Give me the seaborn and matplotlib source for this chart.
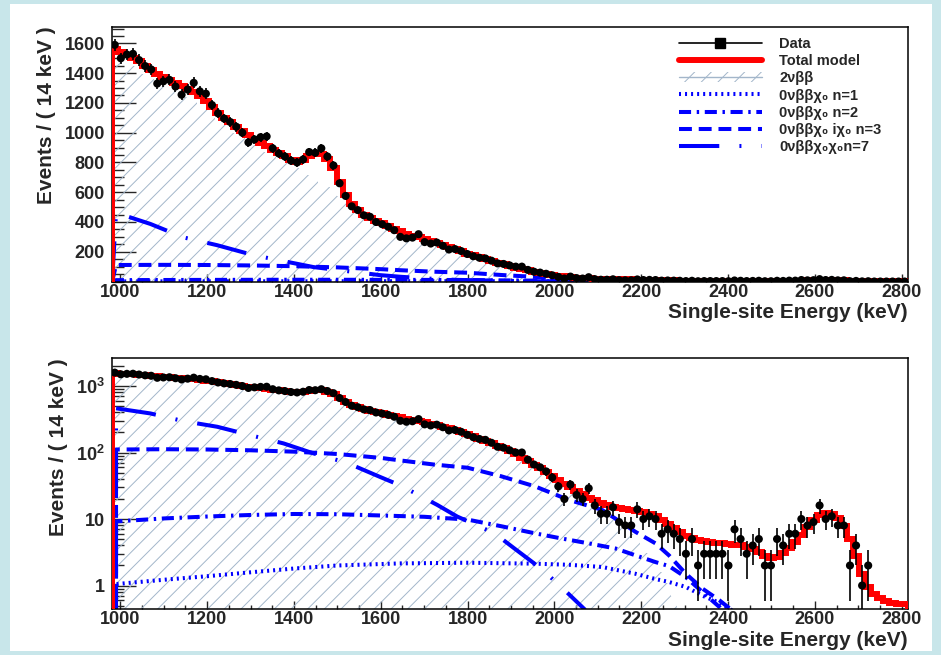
import numpy as np
import matplotlib
matplotlib.use("Agg")
import matplotlib.pyplot as plt
import seaborn as sns
from matplotlib.lines import Line2D
from matplotlib.patches import Patch, Rectangle
from matplotlib.ticker import FixedLocator, MultipleLocator, LogLocator, FuncFormatter, NullFormatter

# ---------------- data ----------------
bin_width = 14
bin_lo = 980
n_bins = 131

total_model = [
    1565, 1540, 1525, 1505, 1480, 1450, 1420, 1395, 1372, 1352,
    1335, 1315, 1295, 1272, 1245, 1210, 1170, 1130, 1100, 1070,
    1040, 1010, 983, 958, 932, 908, 885, 865, 845, 815,
    805, 815, 845, 862, 860, 820, 760, 670, 580, 520,
    480, 448, 425, 405, 390, 372, 355, 338, 322, 308,
    296, 283, 270, 257, 244, 230, 216, 202, 188, 175,
    162, 150, 138, 126, 115, 104, 94, 84, 75, 66,
    58, 51, 45, 39, 34, 30, 26.5, 23.5, 21, 19,
    17.5, 16.3, 15.4, 14.7, 14.2, 13.7, 13.2, 12.7, 12.1, 11.2,
    9.8, 8.4, 7.2, 6.3, 5.6, 5.2, 4.9, 4.7, 4.5, 4.4,
    4.3, 4.2, 4.1, 4.0, 3.8, 3.6, 3.2, 2.8, 2.6, 2.7,
    3.1, 3.7, 4.5, 5.8, 7.5, 9.5, 11.5, 12.3, 12.0, 10.5,
    7.8, 5.0, 2.8, 1.5, 0.95, 0.75, 0.64, 0.58, 0.55, 0.53,
    0.52]

two_nu = [
    1500, 1478, 1464, 1445, 1421, 1392, 1363, 1339, 1317, 1298,
    1282, 1262, 1243, 1221, 1195, 1162, 1123, 1085, 1056, 1027,
    998, 970, 944, 920, 895, 872, 850, 830, 810, 782,
    760, 738, 714, 690, 664, 636, 606, 574, 540, 496,
    458, 428, 406, 387, 372, 355, 339, 323, 308, 294,
    282, 270, 257, 245, 232, 219, 205, 192, 179, 166,
    154, 142, 131, 120, 109, 99, 89, 80, 71, 62,
    54, 47, 41, 35, 30, 26, 22, 19, 16.5, 14.5,
    12.7, 11, 9.6, 8.3, 7.1, 6.0, 5.0, 4.0, 3.1, 2.3,
    1.6, 1.1, 0.7, 0.45, 0.28, 0.15, 0.07, 0.03, 0, 0,
    0, 0, 0, 0, 0, 0, 0, 0, 0, 0,
    0, 0, 0, 0, 0, 0, 0, 0, 0, 0,
    0, 0, 0, 0, 0, 0, 0, 0, 0, 0,
    0]

data_counts = [
    1590, 1500, 1525, 1530, 1488, 1448, 1425, 1330, 1345, 1355,
    1310, 1255, 1290, 1335, 1278, 1262, 1186, 1130, 1095, 1072,
    1040, 1000, 935, 955, 970, 975, 895, 860, 840, 812,
    800, 820, 870, 865, 895, 840, 780, 660, 575, 505,
    480, 445, 435, 400, 385, 368, 345, 300, 290, 295,
    318, 265, 255, 262, 240, 215, 218, 205, 185, 170,
    160, 155, 140, 122, 118, 108, 100, 100, 78, 66,
    60, 52, 42, 31, 20, 33, 23, 20, 29, 16,
    12, 12, 15, 9, 8, 8, 14, 10, 11, 10,
    6, 7, 6, 5, 3, 5, 2, 3, 3, 3,
    3, 2, 7, 5, 3, 4, 5, 2, 2, 5,
    4, 6, 6, 10, 8, 9, 16, 10, 11, 8,
    8, 2, 4, 1, 2, 0, 0, 0, 0, 0,
    0]

# signal shapes (smooth curves)
n1_E = [981, 990, 1100, 1200, 1300, 1400, 1500, 1645, 1800, 1955, 2033, 2110, 2187, 2233, 2264, 2303, 2342, 2380, 2405, 2440]
n1_v = [0, 1.05, 1.22, 1.38, 1.58, 1.8, 2.0, 2.15, 2.2, 2.13, 2.05, 1.9, 1.5, 1.25, 1.13, 0.95, 0.7, 0.55, 0.44, 0.3]

n2_E = [981, 990, 1100, 1200, 1300, 1400, 1500, 1600, 1700, 1800, 1877, 1955, 2016, 2079, 2141, 2187, 2233, 2264, 2303, 2342, 2381, 2420]
n2_v = [0, 9.2, 10.2, 10.9, 11.5, 11.9, 11.8, 11.3, 10.8, 9.8, 7.8, 6.1, 5.1, 4.3, 3.6, 2.84, 2.25, 1.96, 1.33, 0.79, 0.47, 0.25]

n3_E = [981, 990, 1100, 1200, 1300, 1400, 1500, 1600, 1645, 1722, 1800, 1877, 1955, 2032, 2110, 2187, 2233, 2264, 2303, 2342, 2380, 2410]
n3_v = [0, 111, 112, 111, 108, 103, 95, 83, 76, 66, 59, 44, 31, 19.5, 13.7, 6.4, 4.3, 2.84, 1.5, 0.89, 0.6, 0.42]

n7_E = [981, 990, 1069, 1146, 1223, 1307, 1376, 1445, 1522, 1598, 1645, 1730, 1776, 1862, 1908, 1970, 2016, 2071]
n7_v = [0, 462, 387, 296, 244, 177, 137, 97, 70, 43, 32, 16.3, 10.9, 6.1, 3.6, 1.78, 0.95, 0.43]

legend_labels = ["Data", "Total model", "2νββ",
                 "0νββχ₀ n=1", "0νββχ₀ n=2",
                 "0νββχ₀ iχ₀ n=3", "0νββχ₀χ₀n=7"]
x_ticks = [1000, 1200, 1400, 1600, 1800, 2000, 2200, 2400, 2600, 2800]
lin_y_ticks = [200, 400, 600, 800, 1000, 1200, 1400, 1600]
log_y_ticks = [1, 10, 100, 1000]
xlabel = "Single-site Energy (keV)"
ylabel = "Events / ( 14 keV )"

# ---------------- style ----------------
sns.set_theme(style="ticks")
plt.rcParams["font.family"] = ["Liberation Sans", "DejaVu Sans"]
plt.rcParams["font.weight"] = "bold"
plt.rcParams["axes.labelweight"] = "bold"
plt.rcParams["mathtext.fontset"] = "custom"
plt.rcParams["mathtext.rm"] = "Liberation Sans:bold"
plt.rcParams["mathtext.bf"] = "Liberation Sans:bold"
plt.rcParams["mathtext.it"] = "Liberation Sans:italic:bold"
plt.rcParams["mathtext.default"] = "bf"
plt.rcParams["hatch.linewidth"] = 0.7

cyan = "#c8e6ea"
hatch_c = "#a3b6ca"
plt.rcParams["hatch.color"] = hatch_c
blue = "#0000ff"
red = "#ff0000"
blue_lw = 2.9
red_lw = 4.3
ls_n1 = (0, (0.5, 1.0))
ls_n2 = (0, (3.0, 1.4, 0.6, 1.4))
ls_n3 = (0, (3.2, 1.7))
ls_n7 = (0, (10, 5, 0.5, 5))

edges = bin_lo + bin_width * np.arange(n_bins + 1)
centers = edges[:-1] + bin_width / 2
M = np.array(total_model, float)
T = np.array(two_nu, float)
D = np.array(data_counts, float)
x_hi = bin_lo + bin_width * n_bins

fig = plt.figure(figsize=(9.41, 6.55), dpi=100)
fig.patch.set_facecolor(cyan)
fig.add_artist(Rectangle((10 / 941, 4 / 655), 922 / 941, 647 / 655, transform=fig.transFigure,
                         facecolor="white", edgecolor="none", zorder=-10))

ax_lin = fig.add_axes([0.1187, 0.5702, 0.8459, 0.389])
ax_log = fig.add_axes([0.1187, 0.0702, 0.8459, 0.3832])


def draw(ax, log):
    ax.set_facecolor("white")
    if log:
        ax.set_yscale("log", nonpositive="clip")
    sns.histplot(x=list(centers), weights=list(T), binwidth=bin_width, binrange=(bin_lo, x_hi),
                 element="step", fill=True, color=hatch_c,
                 facecolor="none", edgecolor=hatch_c, hatch="//", linewidth=0, ax=ax, zorder=1)
    for E, v, ls in [(n1_E, n1_v, ls_n1), (n2_E, n2_v, ls_n2), (n3_E, n3_v, ls_n3), (n7_E, n7_v, ls_n7)]:
        sns.lineplot(x=E, y=v, ax=ax, color=blue, lw=blue_lw, linestyle=ls,
                     estimator=None, sort=False, zorder=2)
    ax.stairs(M, edges, baseline=0, color=red, lw=red_lw, zorder=3)
    if log:
        msk = D > 0
    else:
        msk = np.ones_like(D, bool)
    err = np.sqrt(D[msk])
    lower = np.minimum(err, D[msk]) if not log else np.minimum(err, D[msk] - 1e-6)
    ax.errorbar(centers[msk], D[msk], yerr=[lower, err], fmt="none", ecolor="black",
                elinewidth=1.2, capsize=0, zorder=4)
    sns.scatterplot(x=centers[msk], y=D[msk], color="black", s=34, linewidth=0,
                    edgecolor="none", ax=ax, zorder=5)

    ax.set_xlim(bin_lo, x_hi)
    ax.xaxis.set_major_locator(FixedLocator(x_ticks))
    ax.xaxis.set_minor_locator(MultipleLocator(50))
    if log:
        ax.set_ylim(0.443, 2636)
        ax.yaxis.set_major_locator(FixedLocator(log_y_ticks))
        ax.yaxis.set_minor_locator(LogLocator(base=10, subs=np.arange(2, 10), numticks=20))
        ax.yaxis.set_major_formatter(FuncFormatter(
            lambda v, p: "1" if v == 1 else ("10" if v == 10 else "10$^{%d}$" % round(np.log10(v)))))
        ax.yaxis.set_minor_formatter(NullFormatter())
    else:
        ax.set_ylim(0, 1712)
        ax.yaxis.set_major_locator(FixedLocator(lin_y_ticks))
        ax.yaxis.set_minor_locator(MultipleLocator(50))
    ax.tick_params(axis="x", which="major", direction="in", length=5.5, width=1.0,
                   labelsize=13, pad=1.5, top=False)
    ax.tick_params(axis="x", which="minor", direction="in", length=2.8, width=1.0, top=False)
    ax.tick_params(axis="y", which="major", direction="in", length=17, width=1.0,
                   labelsize=13, pad=5, right=False)
    ax.tick_params(axis="y", which="minor", direction="in", length=8.6, width=1.0, right=False)
    for lab in ax.get_xticklabels() + ax.get_yticklabels():
        lab.set_fontweight("bold")
    for s in ax.spines.values():
        s.set_visible(True)
        s.set_color("black")
        s.set_linewidth(1.1)
    ax.set_xlabel(xlabel, fontsize=15, fontweight="bold", loc="right", labelpad=2)
    ax.set_ylabel(ylabel, fontsize=15, fontweight="bold", loc="top", labelpad=6)
    ax.grid(False)


draw(ax_lin, False)
draw(ax_log, True)

handles = [
    Line2D([], [], color="black", lw=1.2, marker="s", ms=7),
    Line2D([], [], color=red, lw=red_lw),
    (Patch(facecolor="none", edgecolor=hatch_c, hatch="//", lw=0), Line2D([], [], color=hatch_c, lw=1)),
    Line2D([], [], color=blue, lw=blue_lw, linestyle=ls_n1),
    Line2D([], [], color=blue, lw=blue_lw, linestyle=ls_n2),
    Line2D([], [], color=blue, lw=blue_lw, linestyle=ls_n3),
    Line2D([], [], color=blue, lw=blue_lw, linestyle=ls_n7),
]
leg = ax_lin.legend(handles, legend_labels, loc="upper left", bbox_to_anchor=(0.7124, 0.96),
                    frameon=False, prop={"size": 10.5, "weight": "bold"}, handlelength=5.7,
                    handletextpad=1.2, labelspacing=0.22, borderpad=0, borderaxespad=0, numpoints=1)

fig.savefig("out.png", dpi=100, facecolor=fig.get_facecolor())
